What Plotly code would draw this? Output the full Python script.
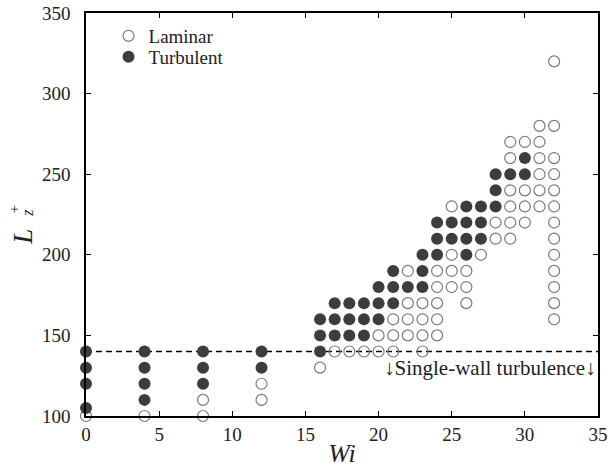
import plotly.graph_objects as go

# Laminar (open circles): Wi, L_z^+
laminar_wi = [0, 4, 8, 8, 12, 12, 16, 17, 18, 19, 20, 20, 21, 21, 21,
              22, 22, 22, 22, 23, 23, 23, 23, 24, 24, 24, 24, 24,
              25, 25, 25, 25, 26, 26, 26, 27, 28, 28,
              29, 29, 29, 29, 29, 29, 30, 30, 30, 30,
              31, 31, 31, 31, 31, 31,
              32, 32, 32, 32, 32, 32, 32, 32, 32, 32, 32, 32, 32]
laminar_lz = [100, 100, 100, 110, 110, 120, 130, 140, 140, 140, 140, 150, 140, 150, 160,
              150, 160, 170, 190, 140, 150, 160, 170, 150, 160, 170, 180, 190,
              180, 190, 200, 230, 170, 180, 190, 200, 210, 220,
              210, 220, 230, 240, 260, 270, 220, 230, 240, 270,
              230, 240, 250, 260, 270, 280,
              160, 170, 180, 190, 200, 210, 220, 230, 240, 250, 260, 280, 320]

# Turbulent (filled circles)
turbulent_wi = [0, 0, 0, 0, 4, 4, 4, 4, 8, 8, 8, 12, 12,
                16, 16, 16, 17, 17, 17, 18, 18, 18, 19, 19, 19,
                20, 20, 20, 21, 21, 21, 22, 23, 23, 23,
                24, 24, 24, 25, 25, 26, 26, 26, 26, 27, 27, 27,
                28, 28, 28, 29, 30, 30]
turbulent_lz = [105, 120, 130, 140, 110, 120, 130, 140, 120, 130, 140, 130, 140,
                140, 150, 160, 150, 160, 170, 150, 160, 170, 150, 160, 170,
                160, 170, 180, 170, 180, 190, 180, 180, 190, 200,
                200, 210, 220, 210, 220, 200, 210, 220, 230, 210, 220, 230,
                230, 240, 250, 250, 250, 260]

threshold_lz = 140
x_ticks = [0, 5, 10, 15, 20, 25, 30, 35]
y_ticks = [100, 150, 200, 250, 300, 350]

FONT = "Liberation Serif, DejaVu Serif, serif"
TXT = "#222"

fig = go.Figure()
fig.add_trace(go.Scatter(
    x=laminar_wi, y=laminar_lz, mode="markers", name="Laminar", legend="legend",
    marker=dict(symbol="circle-open", size=11, color="#7a7a7a", line=dict(width=1.2, color="#7a7a7a")),
    cliponaxis=False))
fig.add_trace(go.Scatter(
    x=turbulent_wi, y=turbulent_lz, mode="markers", name="Turbulent", legend="legend2",
    marker=dict(symbol="circle", size=12, color="#3d3d3d", line=dict(width=0)),
    cliponaxis=False))

fig.add_shape(type="line", xref="x", yref="y", x0=0, x1=35, y0=threshold_lz, y1=threshold_lz,
              line=dict(color="black", width=1.5, dash="6px,4px"), layer="below")

fig.add_annotation(x=35, y=130, xref="x", yref="y", xanchor="right", text="↓Single-wall turbulence↓",
                   showarrow=False, font=dict(family=FONT, size=21, color=TXT))

# y-axis title L_z^+
fig.add_annotation(x=-0.157, y=0.444, xref="paper", yref="paper", text="<i>L</i>",
                   textangle=-90, showarrow=False, font=dict(family=FONT, size=27, color=TXT))
fig.add_annotation(x=-0.161, y=0.512, xref="paper", yref="paper", text="+",
                   textangle=-90, showarrow=False, font=dict(family=FONT, size=15, color=TXT))
fig.add_annotation(x=-0.135, y=0.505, xref="paper", yref="paper", text="<i>z</i>",
                   textangle=-90, showarrow=False, font=dict(family=FONT, size=16, color=TXT))

axis_common = dict(showgrid=False, zeroline=False, showline=True, linecolor="black", linewidth=1.5,
                   mirror="ticks", ticks="inside", ticklen=5, tickwidth=1, tickcolor="black",
                   automargin=False, tickfont=dict(family=FONT, size=19, color=TXT))

fig.update_xaxes(range=[0, 35], tickvals=x_ticks, ticklabelstandoff=0,
                 title=dict(text="<i>Wi</i>", font=dict(family=FONT, size=26, color=TXT), standoff=0),
                 **axis_common)
fig.update_yaxes(range=[100, 350], tickvals=y_ticks, ticklabelstandoff=10, **axis_common)

leg_common = dict(xanchor="left", yanchor="middle", bgcolor="rgba(0,0,0,0)", borderwidth=0,
                  font=dict(family=FONT, size=19, color=TXT), itemsizing="trace")
fig.update_layout(
    width=608, height=470,
    margin=dict(l=86, r=10, t=13, b=54),
    plot_bgcolor="white", paper_bgcolor="white",
    font=dict(family=FONT, size=19, color=TXT),
    showlegend=True,
    legend=dict(x=0.044, y=0.943, **leg_common),
    legend2=dict(x=0.044, y=0.891, **leg_common),
)

fig.write_html("out.html")
